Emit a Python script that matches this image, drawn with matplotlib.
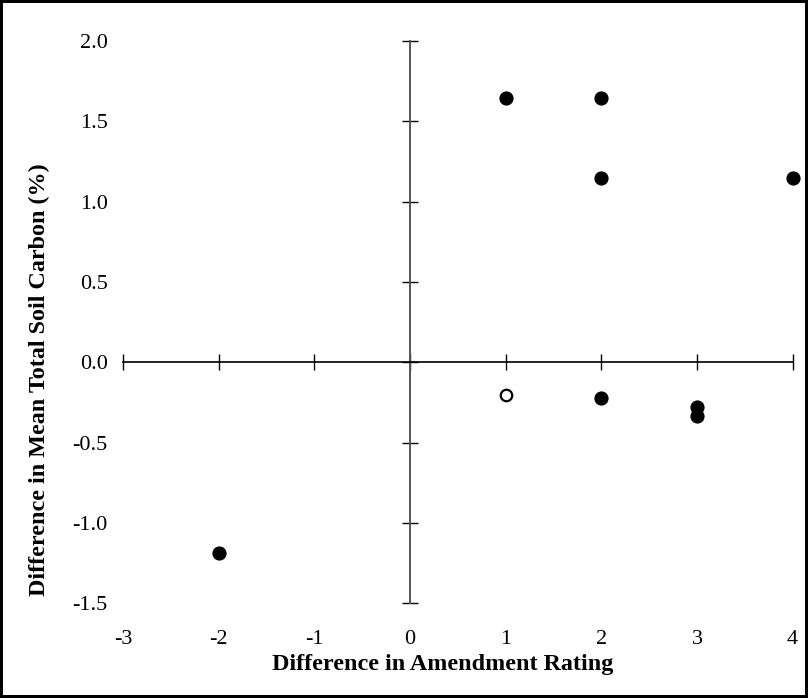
import matplotlib
matplotlib.use("Agg")
import matplotlib.pyplot as plt

plt.rcParams['font.family'] = ['Liberation Serif', 'DejaVu Serif']

# Data
filled_x = [1, 2, 2, 4, 2, 3, 3, -2]
filled_y = [1.645, 1.645, 1.148, 1.148, -0.22, -0.278, -0.332, -1.19]
open_x = [1]
open_y = [-0.206]

x_ticks = [-3, -2, -1, 0, 1, 2, 3, 4]
y_ticks = [-1.5, -1.0, -0.5, 0.0, 0.5, 1.0, 1.5, 2.0]
y_tick_labels = ["-1.5", "-1.0", "-0.5", "0.0", "0.5", "1.0", "1.5", "2.0"]

fig = plt.figure(figsize=(8.08, 6.98), dpi=100)
fig.patch.set_edgecolor('black')
fig.patch.set_linewidth(3)
ax = fig.add_axes([0.152, 0.136, 0.829, 0.805])

ax.scatter(filled_x, filled_y, s=85, color='black', zorder=3, clip_on=False)
ax.scatter(open_x, open_y, s=68, facecolor='white', edgecolor='black',
           linewidth=1.6, zorder=3, clip_on=False)

ax.set_xlim(-3, 4)
ax.set_ylim(-1.5, 2.0)

ax.spines['left'].set_visible(False)
ax.spines['bottom'].set_visible(False)
ax.spines['right'].set_position(('data', 0))
ax.spines['top'].set_position(('data', 0))
ax.spines['right'].set_color('#555555')
ax.spines['right'].set_linewidth(1.4)
ax.spines['top'].set_color('black')
ax.spines['top'].set_linewidth(1.2)

ax.set_xticks(x_ticks)
ax.set_xticklabels([str(v) for v in x_ticks])
ax.set_yticks(y_ticks)
ax.set_yticklabels(y_tick_labels)

ax.tick_params(axis='x', bottom=False, top=True, labelbottom=True, labeltop=False,
               direction='inout', length=12, width=1, labelsize=16, pad=13.5)
ax.tick_params(axis='y', left=False, right=True, labelleft=True, labelright=False,
               direction='inout', length=12, width=1, labelsize=16, pad=5)

ax.set_xlabel("Difference in Amendment Rating", fontsize=17.4, fontweight='bold')
ax.set_ylabel("Difference in Mean Total Soil Carbon (%)", fontsize=17.4, fontweight='bold')
ax.xaxis.set_label_coords(0.478, -0.091)
ax.yaxis.set_label_coords(-0.109, 0.397)

fig.savefig("out.png", dpi=100, edgecolor=fig.get_edgecolor())
